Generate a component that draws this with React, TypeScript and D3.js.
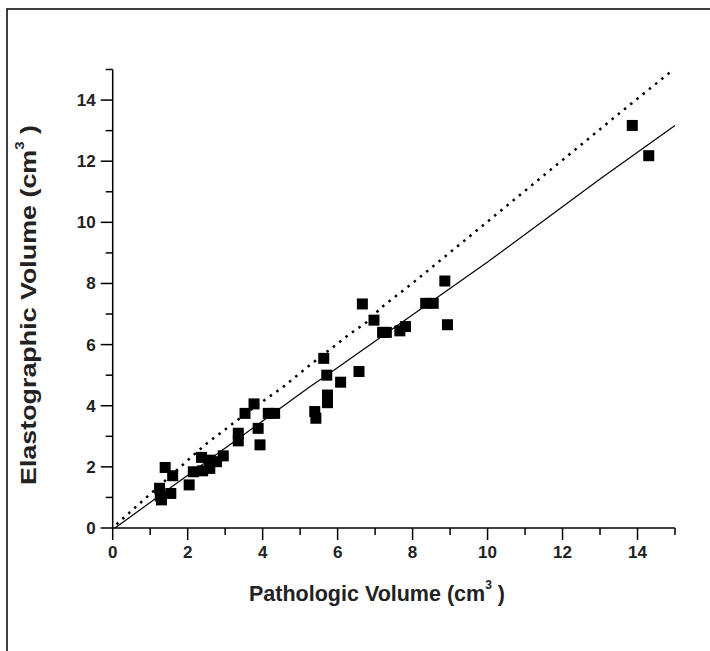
import React from "react";
import * as d3 from "d3";

const pathoVol = [1.25, 1.3, 1.27, 1.55, 1.4, 1.6, 2.04, 2.15, 2.4, 2.37, 2.59, 2.59, 2.77, 2.95, 3.35, 3.35, 3.53, 3.77, 3.88, 3.93, 4.15, 4.32, 5.39, 5.42, 5.73, 5.73, 5.63, 5.71, 6.08, 6.57, 6.66, 6.97, 7.2, 7.3, 7.66, 7.81, 8.35, 8.55, 8.86, 8.93, 13.86, 14.3];
const elastoVol = [1.3, 0.92, 1.05, 1.13, 1.98, 1.71, 1.41, 1.84, 1.87, 2.31, 2.22, 1.95, 2.17, 2.36, 3.1, 2.85, 3.75, 4.06, 3.26, 2.72, 3.75, 3.75, 3.81, 3.59, 4.35, 4.1, 5.55, 5.0, 4.77, 5.12, 7.33, 6.8, 6.4, 6.4, 6.45, 6.59, 7.35, 7.35, 8.08, 6.65, 13.17, 12.18];

const fitX = [0.06, 5.26, 5.71, 10, 13.0, 15.0];
const fitY = [0.0, 4.62, 5.0, 8.7, 11.42, 13.17];

const dotX = [0.1, 2.46, 3.79, 4.54, 5.26, 6.33, 6.78, 7.18, 8.0, 12.0, 13.6, 14.86];
const dotY = [0.12, 2.72, 3.96, 4.61, 5.33, 6.35, 6.74, 7.23, 8.01, 12.04, 13.65, 14.9];

const xTicks = [0, 2, 4, 6, 8, 10, 12, 14];
const yTicks = [0, 2, 4, 6, 8, 10, 12, 14];
const minorTicks = [1, 3, 5, 7, 9, 11, 13, 15];

export default function App() {
  const W = 710, H = 651;
  const x = d3.scaleLinear().domain([0, 15]).range([112.7, 675]);
  const y = d3.scaleLinear().domain([0, 15]).range([528, 69.5]);
  const line = d3.line<[number, number]>().x(d => x(d[0])).y(d => y(d[1]));
  const fitPts: [number, number][] = fitX.map((v, i) => [v, fitY[i]]);
  const dotPts: [number, number][] = dotX.map((v, i) => [v, dotY[i]]);
  const sq = 11;
  const font = "'Liberation Sans', Arial, sans-serif";
  return (
    <svg width={W} height={H} style={{ position: "absolute", left: 0, top: 0, background: "#fff" }}>
      <rect x={7} y={9} width={720} height={660} fill="none" stroke="#000" strokeWidth={1.5} />
      <line x1={x(0)} x2={x(0)} y1={y(15)} y2={y(0)} stroke="#000" strokeWidth={1.5} />
      <line x1={x(0)} x2={x(15)} y1={y(0)} y2={y(0)} stroke="#000" strokeWidth={1.5} />
      {xTicks.map(t => (
        <g key={"xt" + t}>
          <line x1={x(t)} x2={x(t)} y1={y(0)} y2={y(0) + 12} stroke="#000" strokeWidth={1.5} />
          <text x={x(t)} y={y(0) + 30} textAnchor="middle" fontFamily={font} fontWeight="bold" fontSize={17} fill="#222">{t}</text>
        </g>
      ))}
      {minorTicks.map(t => (
        <g key={"m" + t}>
          <line x1={x(t)} x2={x(t)} y1={y(0)} y2={y(0) + 7} stroke="#000" strokeWidth={1.5} />
          <line x1={x(0)} x2={x(0) - 7} y1={y(t)} y2={y(t)} stroke="#000" strokeWidth={1.5} />
        </g>
      ))}
      {yTicks.map(t => (
        <g key={"yt" + t}>
          <line x1={x(0)} x2={x(0) - 12} y1={y(t)} y2={y(t)} stroke="#000" strokeWidth={1.5} />
          <text x={x(0) - 17} y={y(t) + 6} textAnchor="end" fontFamily={font} fontWeight="bold" fontSize={17} fill="#222">{t}</text>
        </g>
      ))}
      <path d={line(fitPts) || ""} fill="none" stroke="#000" strokeWidth={1.2} />
      <path d={line(dotPts) || ""} fill="none" stroke="#000" strokeWidth={2.5} strokeDasharray="2.5 5.5" />
      {pathoVol.map((v, i) => (
        <rect key={"p" + i} x={x(v) - sq / 2} y={y(elastoVol[i]) - sq / 2} width={sq} height={sq} fill="#000" />
      ))}
      <text x={377} y={601} textAnchor="middle" fontFamily={font} fontWeight="bold" fontSize={21.5} fill="#222">
        Pathologic Volume (cm<tspan fontSize={12} dy={-12}>3</tspan><tspan dy={12}> )</tspan>
      </text>
      <text transform="translate(36,305) rotate(-90)" textAnchor="middle" fontFamily={font} fontWeight="bold" fontSize={21.5} fill="#222" textLength={360} lengthAdjust="spacingAndGlyphs">
        Elastographic Volume (cm<tspan fontSize={12} dy={-12}>3</tspan><tspan dy={12}> )</tspan>
      </text>
    </svg>
  );
}
